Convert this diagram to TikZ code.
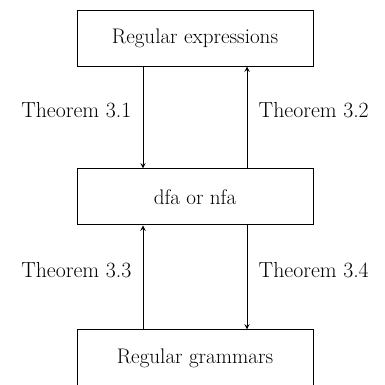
\documentclass[tikz,border=0pt]{standalone}
\usetikzlibrary{positioning}

\begin{document}
\begin{tikzpicture}[>=stealth,
    box/.style={draw, line width=0.7pt, minimum width=5.9cm, minimum height=1.4cm, font=\fontsize{15}{18}\selectfont},
    thm/.style={font=\fontsize{15.5}{18}\selectfont, inner sep=8pt, yshift=0.18cm},
    conn/.style={->, line width=0.7pt}]

  % --- 1. 枠 ---
  \useasboundingbox (0,0) rectangle (9.6,-9.625);

  % --- 2. 三つの箱 ---
  \node[box] (regex) at (4.875,-0.95) {Regular expressions};
  \node[box, below=2.55cm of regex] (fa) {dfa or nfa};
  \node[box, below=2.6cm of fa] (grammar) {Regular grammars};

  % --- 3. 定理の矢印 ---
  \draw[conn] ([xshift=-1.3cm]regex.south) -- ([xshift=-1.3cm]fa.north)
    node[midway, left, thm] {Theorem 3.1};
  \draw[conn] ([xshift=1.3cm]fa.north) -- ([xshift=1.3cm]regex.south)
    node[midway, right, thm] {Theorem 3.2};
  \draw[conn] ([xshift=-1.3cm]grammar.north) -- ([xshift=-1.3cm]fa.south)
    node[midway, left, thm] {Theorem 3.3};
  \draw[conn] ([xshift=1.3cm]fa.south) -- ([xshift=1.3cm]grammar.north)
    node[midway, right, thm] {Theorem 3.4};

\end{tikzpicture}
\end{document}
